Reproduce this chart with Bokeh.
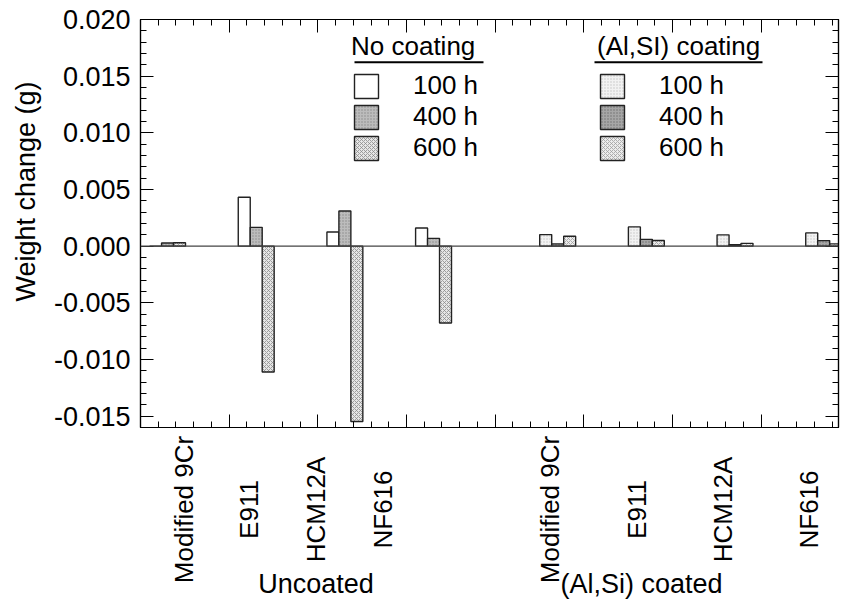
import math
from bokeh.plotting import figure
from bokeh.layouts import column, row
from bokeh.models import (Range1d, LinearAxis, SingleIntervalTicker, Span, Legend, LegendItem,
                          ColumnDataSource, BoxAnnotation, NumeralTickFormatter, CustomJSTickFormatter)
from bokeh.core.properties import value
from bokeh.embed import file_html
from bokeh.resources import INLINE

# ---------------- data ----------------
materials = ["Modified 9Cr", "E911", "HCM12A", "NF616"]
times = ["100 h", "400 h", "600 h"]
uncoated_100 = [0.00000, 0.00431, 0.00125, 0.00160]
uncoated_400 = [0.00028, 0.00166, 0.00310, 0.00069]
uncoated_600 = [0.00030, -0.01110, -0.01547, -0.00678]
coated_100 = [0.00102, 0.00170, 0.00100, 0.00117]
coated_400 = [0.00020, 0.00060, 0.00013, 0.00049]
coated_600 = [0.00087, 0.00050, 0.00025, 0.00020]
group_titles = ["Uncoated", "(Al,Si) coated"]
legend_titles = ["No coating", "(Al,SI) coating"]
y_label = "Weight change (g)"

# ---------------- layout helpers ----------------
FONT = "Liberation Sans"
STRIP = 50          # width of the strip holding the y-axis title
W = 844 - STRIP
PH = 432            # height of the main figure (frame bottom at 427)
unc_centers = [i + 0.305 for i in range(4)]
coat_centers = [i + 4.705 for i in range(4)]
bw = 0.135
label_x = [0.49, 1.22, 1.98, 2.73, 4.62, 5.60, 6.57, 7.54]
title_x = [1.98, 5.65]
xr = Range1d(0, 7.872)

p = figure(width=W, height=PH, output_backend="svg", toolbar_location=None,
           x_range=xr, y_range=Range1d(-0.016, 0.020),
           x_axis_location=None, y_axis_location=None,
           min_border_left=140 - STRIP, min_border_right=6, min_border_top=19,
           min_border_bottom=PH - 427)
p.grid.visible = False
p.outline_line_color = "black"
p.outline_line_width = 1.2

blank = CustomJSTickFormatter(code="return ''")

def style_axis(ax, labels=True):
    ax.axis_line_color = "black"
    ax.axis_line_width = 1.2
    ax.major_tick_in = 13
    ax.major_tick_out = 0
    ax.minor_tick_in = 6
    ax.minor_tick_out = 0
    ax.major_tick_line_color = "black"
    ax.minor_tick_line_color = "black"
    if labels:
        ax.major_label_text_font = FONT
        ax.major_label_text_font_size = "27px"
        ax.major_label_text_color = "black"
    else:
        ax.formatter = blank
        ax.major_label_standoff = 0
        ax.major_label_text_font_size = "1px"

left = LinearAxis(ticker=SingleIntervalTicker(interval=0.005, num_minor_ticks=5),
                  formatter=NumeralTickFormatter(format="0.000"))
style_axis(left)
left.major_label_standoff = 10
p.add_layout(left, "left")

right = LinearAxis(ticker=SingleIntervalTicker(interval=0.005, num_minor_ticks=5))
style_axis(right, labels=False)
p.add_layout(right, "right")

for loc in ("above", "below"):
    ax = LinearAxis(ticker=SingleIntervalTicker(interval=1, num_minor_ticks=5))
    style_axis(ax, labels=False)
    p.add_layout(ax, loc)

p.add_layout(Span(location=0, dimension="width", line_color="#444444", line_width=1.2))

# ---------------- bars ----------------
styles = {
    "u100": dict(fill_color="white"),
    "u400": dict(fill_color="#bcbcbc", hatch_pattern="dot", hatch_color="#8a8a8a", hatch_scale=3, hatch_weight=1),
    "u600": dict(fill_color="#e6e6e6", hatch_pattern="diagonal_cross", hatch_color="#8c8c8c", hatch_scale=4, hatch_weight=0.8),
    "c100": dict(fill_color="#f2f2f2", hatch_pattern="dot", hatch_color="#c4c4c4", hatch_scale=3, hatch_weight=1),
    "c400": dict(fill_color="#a6a6a6", hatch_pattern="dot", hatch_color="#6c6c6c", hatch_scale=3, hatch_weight=1),
    "c600": dict(fill_color="#ececec", hatch_pattern="diagonal_cross", hatch_color="#a0a0a0", hatch_scale=4, hatch_weight=0.8),
}
series_u = [uncoated_100, uncoated_400, uncoated_600]
series_c = [coated_100, coated_400, coated_600]
keys_u = ["u100", "u400", "u600"]
keys_c = ["c100", "c400", "c600"]
rend_u, rend_c = [], []
for j in range(3):
    off = (j - 1) * bw
    src = ColumnDataSource(dict(x=[c + off for c in unc_centers], top=series_u[j]))
    rend_u.append(p.vbar(x="x", top="top", bottom=0, width=bw, source=src, line_color="#222222",
                         line_width=1.4, **styles[keys_u[j]]))
    src = ColumnDataSource(dict(x=[c + off for c in coat_centers], top=series_c[j]))
    rend_c.append(p.vbar(x="x", top="top", bottom=0, width=bw, source=src, line_color="#222222",
                         line_width=1.4, **styles[keys_c[j]]))

# ---------------- legends ----------------
def make_legend(title, rends, loc):
    lg = Legend(items=[LegendItem(label=t, renderers=[r]) for t, r in zip(times, rends)],
                title=title, location=loc, orientation="vertical")
    lg.glyph_width = 30
    lg.glyph_height = 30
    lg.label_standoff = 32
    lg.spacing = -1
    lg.padding = 0
    lg.margin = 0
    lg.label_height = 24
    lg.border_line_color = None
    lg.background_fill_alpha = 0
    lg.label_text_font = FONT
    lg.label_text_font_size = "26px"
    lg.label_text_color = "black"
    lg.title_text_font = FONT
    lg.title_text_font_size = "26px"
    lg.title_text_font_style = "normal"
    lg.title_text_color = "black"
    lg.title_standoff = 8
    return lg

p.add_layout(make_legend(legend_titles[0], rend_u, (211, 264)))
p.add_layout(make_legend(legend_titles[1], rend_c, (457, 264)))
for l, r in [(214, 343), (454, 622)]:
    p.add_layout(BoxAnnotation(left=l, right=r, bottom=364.3, top=366.3,
                               left_units="screen", right_units="screen",
                               bottom_units="screen", top_units="screen",
                               fill_color="black", fill_alpha=1, line_color=None))

# ---------------- category labels (strip below the axis) ----------------
q = figure(width=W, height=603 - PH, output_backend="svg", toolbar_location=None,
           x_range=xr, y_range=Range1d(-176, -(PH - 427)),
           x_axis_location=None, y_axis_location=None,
           min_border_left=140 - STRIP, min_border_right=6, min_border_top=0, min_border_bottom=0)
q.grid.visible = False
q.outline_line_color = None
cat_src = ColumnDataSource(dict(x=label_x, y=[-82] * 8, t=materials + materials))
q.text(x="x", y="y", text="t", source=cat_src, angle=math.pi / 2, text_align="center",
       text_baseline="middle", text_font=value(FONT), text_font_size="26px", text_color="black")
ttl_src = ColumnDataSource(dict(x=title_x, y=[-156] * 2, t=group_titles))
q.text(x="x", y="y", text="t", source=ttl_src, text_align="center", text_baseline="middle",
       text_font=value(FONT), text_font_size="27px", text_color="black")

# ---------------- y-axis title strip ----------------
s = figure(width=STRIP, height=603, output_backend="svg", toolbar_location=None,
           x_range=Range1d(0, STRIP), y_range=Range1d(-603, 0),
           x_axis_location=None, y_axis_location=None,
           min_border_left=0, min_border_right=0, min_border_top=0, min_border_bottom=0)
s.grid.visible = False
s.outline_line_color = None
s.text(x=[25], y=[-191], text=[y_label], angle=math.pi / 2, text_align="center",
       text_baseline="middle", text_font=value(FONT), text_font_size="27px", text_color="black")

layout = row(s, column(p, q, spacing=0), spacing=0)
open("out.html", "w").write(file_html(layout, INLINE))
